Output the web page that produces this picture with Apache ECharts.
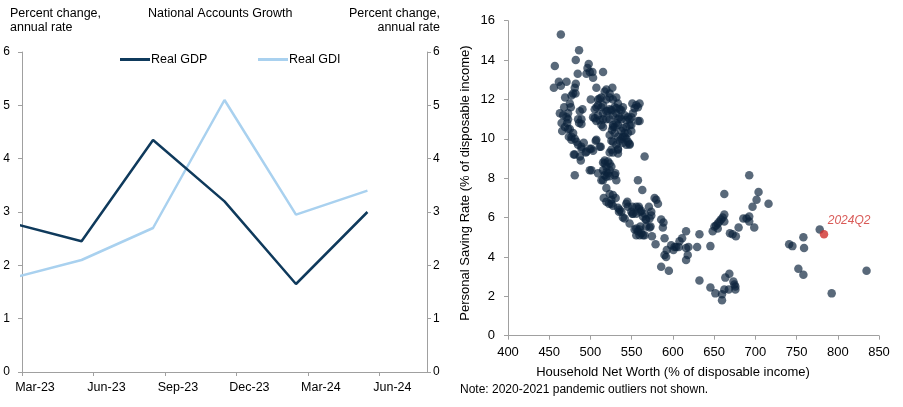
<!DOCTYPE html>
<html>
<head>
<meta charset="utf-8">
<script src="https://cdn.jsdelivr.net/npm/echarts@6/dist/echarts.min.js"></script>
<style>
  html, body { margin: 0; padding: 0; background: #fff; }
  #chart { width: 903px; height: 407px; }
</style>
</head>
<body>
<div id="chart"></div>
<script>
// left panel: quarterly growth, x = months since Dec-22 (mid-quarter points)
var quarterPos = [2.5, 5.5, 8.5, 11.5, 14.5, 17.5];
var realGDP = [2.8, 2.45, 4.35, 3.2, 1.65, 3.0];
var realGDI = [1.75, 2.1, 2.7, 5.1, 2.95, 3.4];
var monthTicks = { 3: 'Mar-23', 6: 'Jun-23', 9: 'Sep-23', 12: 'Dec-23', 15: 'Mar-24', 18: 'Jun-24' };

// right panel: household net worth vs personal saving rate
var netWorth = [
  464.1,456.8,486.2,482.2,484.6,497.9,496.4,499.2,502.4,503.2,495.1,515.3,461.7,471,464.1,455.6,482.2,481,479,481.9,
  477,469.3,507.2,500.4,475,476.2,468.1,466.9,472.9,472.9,471,465.7,469,471.8,487.1,485,489.1,490.3,486.2,489.1,
  472.9,475,479,477,473.8,481,483.1,485,489.1,479.8,487.1,488.3,491.9,501.2,494.3,506.4,512.5,503.2,505.2,509.2,
  507.2,509.2,513.3,517.3,519.3,523.3,526.6,519.3,523.3,527.3,531.4,533.4,529.4,513.3,515.3,519.3,523.3,515.3,519.3,523.3,
  527.3,531.4,535.4,539.4,513.3,515.3,527.3,529.4,531.4,533.4,535.4,537.5,529.4,533.4,535.4,539.4,537.5,541.5,543.5,545.5,
  547.5,543.5,539.4,549.6,549.6,547.5,545.5,549.6,550.8,555.6,557.6,559.6,553.6,557.6,559.6,525.4,527.3,531.4,533.4,523.3,
  527.3,533.4,526.1,523.3,565.7,557.6,515.3,517.3,519.3,515.3,519.3,521.3,517.3,523.3,525.4,523.3,530.2,499.2,509.2,481,
  519.3,515.3,529.4,531.4,519.3,523.3,527.3,525.4,530.6,516.1,519.3,522.5,525.4,527.3,533.4,535.4,537.5,534.6,539.4,541.5,
  543.5,545.5,547.5,551.5,549.6,562.9,555.6,558.8,560.5,555.6,553.6,555.6,557.6,559.6,555.6,559.6,563.7,563.7,565.7,567.7,
  571.7,573.8,570.9,573.8,567.7,572.9,574.6,577.8,579.8,581.9,579,585.8,588.6,587.8,589.9,585.8,595.1,600.7,604,608,
  513.3,544.7,550.8,558.8,550.8,561.7,566.9,560.5,561.7,565.7,571.7,616,611.2,607.2,601.9,597.9,592.6,589.8,591.8,616,
  618,616,692.6,662.4,703.9,701.5,696.6,716,692.6,689.4,685.4,692.6,698.7,662.4,660.4,658.4,656.4,654.4,652.4,650.4,
  648.3,662.4,654.4,679.7,669.2,672.4,676.4,632.2,618.9,629.4,645.5,632.2,645.5,651.5,659.6,659.6,662.4,663.6,668.5,667.7,
  673.4,674.6,675.8,675.8,741,745,758.3,759.1,752.2,758.3,778.1,792.6,834.9,
  462.9,465,477,503.2,511.2,507.2,499.2,495.1,489.1,481,511.2,509.2,515.3,505.2,511.2,507.2,521.3,525.4,537.5,531.4,
  541.5,543.5,551.5,527.3,533.4,539.4,543.5,547.5,545.5,541.5,537.5,547.5,525.4,533.4,501.2,517.3,521.3,523.3
];
var savingRate = [
  15.3,13.7,14.5,14.0,13.3,13.8,13.6,13.4,13.4,13.1,13.3,13.4,12.9,12.9,12.7,12.6,12.8,12.6,12.3,12.3,
  12.2,12.1,12.6,12.0,11.8,11.6,11.6,11.2,11.3,11.0,11.1,10.4,10.6,10.8,11.4,11.0,11.0,11.5,10.8,10.75,
  10.5,10.5,10.3,10.1,10.1,10.0,9.85,9.7,9.6,9.2,9.1,8.9,9.8,9.5,9.3,9.9,9.6,11.1,11.5,11.2,
  11.6,12.0,12.1,12.4,12.5,12.3,12.6,12.0,12.1,12.0,12.1,11.8,11.6,11.6,11.3,11.4,11.5,11.0,11.0,11.0,
  11.2,11.3,11.5,11.6,10.7,10.6,10.7,10.6,10.8,11.0,11.1,11.0,10.3,10.1,9.9,10.1,10.4,10.3,10.0,9.85,
  9.7,9.7,9.8,10.4,10.7,11.0,11.1,11.1,11.8,11.7,11.6,11.8,11.55,10.9,10.9,9.9,9.85,9.7,9.5,9.3,
  9.3,9.25,10.45,10.2,9.1,7.9,8.8,8.75,8.6,8.4,8.3,8.25,8.15,8.75,8.6,8.4,8.25,8.4,8.25,8.15,
  8.07,7.9,8.15,7.9,7.5,7.2,7.15,6.9,7.0,7.0,6.8,6.7,6.7,6.6,6.5,6.4,6.3,6.3,6.0,5.95,
  6.7,6.55,5.7,6.2,6.3,7.4,6.55,6.45,6.3,6.2,5.4,5.45,5.3,5.4,5.1,5.1,5.1,6.05,6.2,5.9,
  5.95,6.1,6.55,6.3,5.55,5.55,5.05,7.0,6.9,6.7,4.65,5.9,5.75,5.5,4.95,3.5,3.3,4.35,4.5,4.8,
  7.9,6.8,6.55,6.55,6.2,6.35,5.9,5.55,5.2,5.1,5.5,5.3,4.95,4.5,4.5,4.6,4.35,4.1,4.0,4.45,
  4.1,3.85,8.15,7.2,7.3,6.9,6.55,6.7,6.05,5.95,5.95,5.8,5.5,6.15,6.0,5.9,5.8,5.7,5.6,5.55,
  5.3,5.8,5.45,5.5,5.2,5.15,5.05,5.15,4.5,4.5,4.55,2.8,2.45,2.15,2.1,1.8,2.35,2.95,3.15,2.35,
  2.75,2.6,2.5,2.35,4.65,4.55,5.0,4.45,3.4,3.1,5.4,2.15,3.3,
  11.3,10.8,9.95,9.4,9.6,9.95,9.5,9.35,9.5,9.2,12.05,11.7,11.7,11.05,10.95,10.9,11.4,11.45,11.45,11.55,
  11.2,10.95,11.3,10.6,10.7,10.55,10.6,10.7,10.3,10.1,10.0,9.75,9.45,9.45,8.4,8.9,8.85,8.1
];
var latestPoint = [783.3, 5.15];
var latestLabel = '2024Q2';

var chart = echarts.init(document.getElementById('chart'));
var axisGray = '#a0a0a0';
var fontFam = 'Liberation Sans, Arial, sans-serif';

var scatterData = netWorth.map(function (x, i) { return [x, savingRate[i]]; });

var option = {
  animation: false,
  textStyle: { fontFamily: fontFam, color: '#000' },
  grid: [
    { left: 22, top: 52, width: 405, height: 320 },
    { left: 508, top: 20.7, width: 371, height: 315 }
  ],
  legend: [
    {
      data: ['Real GDP'], left: 115, top: 48, icon: 'rect', itemWidth: 30, itemHeight: 3, itemGap: 4,
      textStyle: { fontSize: 12.5, color: '#000', fontFamily: fontFam, padding: [0, 0, 0, -4] }
    },
    {
      data: ['Real GDI'], left: 253, top: 48, icon: 'rect', itemWidth: 30, itemHeight: 3, itemGap: 4,
      textStyle: { fontSize: 12.5, color: '#000', fontFamily: fontFam, padding: [0, 0, 0, -4] }
    }
  ],
  xAxis: [
    {
      gridIndex: 0, type: 'value', min: 3, max: 20, interval: 3,
      splitLine: { show: false },
      axisLine: { lineStyle: { color: axisGray, width: 1 } },
      axisTick: { show: true, length: 4, lineStyle: { color: axisGray } },
      axisLabel: {
        fontSize: 12.5, color: '#000', margin: 9, padding: [0, 0, 0, 26], showMaxLabel: false,
        formatter: function (v) { return monthTicks[v] || ''; }
      }
    },
    {
      gridIndex: 1, type: 'value', min: 400, max: 850, interval: 50,
      splitLine: { show: false },
      axisLine: { lineStyle: { color: axisGray, width: 1 } },
      axisTick: { show: true, length: 4, lineStyle: { color: axisGray } },
      axisLabel: { fontSize: 13, color: '#000', margin: 10 }
    }
  ],
  yAxis: [
    {
      gridIndex: 0, type: 'value', min: 0, max: 6, interval: 1, position: 'left',
      splitLine: { show: false },
      axisLine: { show: true, lineStyle: { color: axisGray, width: 1 } },
      axisTick: { show: true, length: 4, lineStyle: { color: axisGray } },
      axisLabel: { fontSize: 12, color: '#000', margin: 12 }
    },
    {
      gridIndex: 0, type: 'value', min: 0, max: 6, interval: 1, position: 'right',
      splitLine: { show: false },
      axisLine: { show: true, lineStyle: { color: axisGray, width: 1 } },
      axisTick: { show: true, length: 4, lineStyle: { color: axisGray } },
      axisLabel: { fontSize: 12, color: '#000', margin: 6 }
    },
    {
      gridIndex: 1, type: 'value', min: 0, max: 16, interval: 2,
      splitLine: { show: false },
      axisLine: { show: true, lineStyle: { color: axisGray, width: 1 } },
      axisTick: { show: true, length: 4, lineStyle: { color: axisGray } },
      axisLabel: { fontSize: 13, color: '#000', margin: 13 }
    }
  ],
  series: [
    {
      name: 'Real GDP', type: 'line', xAxisIndex: 0, yAxisIndex: 0,
      data: quarterPos.map(function (x, i) { return [x, realGDP[i]]; }),
      symbol: 'none', clip: true, z: 3,
      itemStyle: { color: '#0f3a5c' },
      lineStyle: { color: '#0f3a5c', width: 2.5 }
    },
    {
      name: 'Real GDI', type: 'line', xAxisIndex: 0, yAxisIndex: 0,
      data: quarterPos.map(function (x, i) { return [x, realGDI[i]]; }),
      symbol: 'none', clip: true, z: 2,
      itemStyle: { color: '#a9d1ef' },
      lineStyle: { color: '#a9d1ef', width: 2.5 }
    },
    {
      name: 'Saving', type: 'scatter', xAxisIndex: 1, yAxisIndex: 2,
      data: scatterData, symbolSize: 8.5,
      itemStyle: { color: 'rgba(12,35,60,0.85)' }
    },
    {
      name: 'Latest', type: 'scatter', xAxisIndex: 1, yAxisIndex: 2,
      data: [latestPoint], symbolSize: 8.5, z: 5,
      itemStyle: { color: '#d0312d' },
      label: {
        show: true, formatter: latestLabel, position: [8, -15],
        color: '#d0312d', fontStyle: 'italic', fontSize: 12, fontFamily: fontFam
      }
    }
  ],
  graphic: [
    { type: 'text', x: 10, y: 7, style: { text: 'Percent change,\nannual rate', font: '12.5px ' + fontFam, fill: '#000', lineHeight: 14 } },
    { type: 'text', x: 148, y: 7, style: { text: 'National Accounts Growth', font: '12.5px ' + fontFam, fill: '#000', lineHeight: 14 } },
    { type: 'text', x: 440, y: 7, style: { text: 'Percent change,\nannual rate', font: '12.5px ' + fontFam, fill: '#000', align: 'right', lineHeight: 14 } },
    { type: 'text', x: 465, y: 183, rotation: Math.PI / 2, style: { text: 'Personal Saving Rate (% of disposable income)', font: '13px ' + fontFam, fill: '#000', align: 'center', verticalAlign: 'middle' } },
    { type: 'text', x: 673, y: 372, style: { text: 'Household Net Worth (% of disposable income)', font: '13px ' + fontFam, fill: '#000', align: 'center', verticalAlign: 'middle' } },
    { type: 'text', x: 460, y: 390, style: { text: 'Note: 2020-2021 pandemic outliers not shown.', font: '12px ' + fontFam, fill: '#000', verticalAlign: 'middle' } }
  ]
};

chart.setOption(option);
</script>
</body>
</html>
